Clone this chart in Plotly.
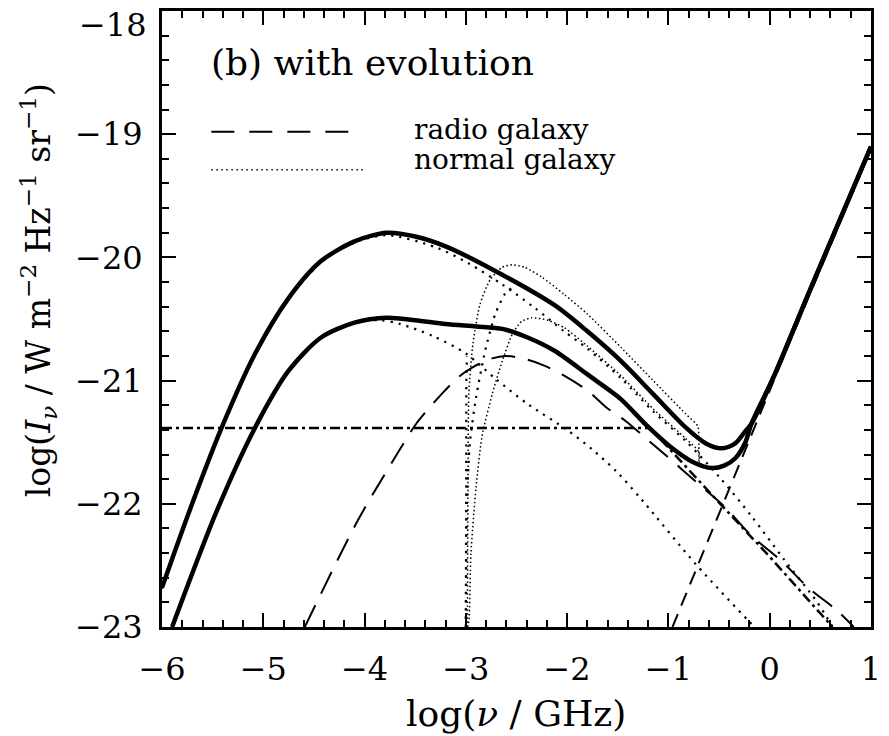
import plotly.graph_objects as go

# ---------------- data ----------------
# upper total (thick solid)
tot_hi_x = [-6.0, -5.73, -5.41, -5.08, -4.75, -4.43, -4.10, -3.78, -3.50, -3.20, -2.71, -2.12, -1.80,
            -1.47, -1.15, -0.83, -0.63, -0.47, -0.34, -0.24, -0.18, 0.05, 0.38, 1.0]
tot_hi_y = [-22.68, -22.06, -21.38, -20.78, -20.33, -20.03, -19.87, -19.80, -19.83, -19.91, -20.11, -20.39, -20.60,
            -20.84, -21.11, -21.38, -21.51, -21.55, -21.51, -21.41, -21.35, -20.95, -20.30, -19.10]
# lower total (thick solid)
tot_lo_x = [-5.90, -5.46, -5.08, -4.75, -4.43, -4.10, -3.78, -3.50, -3.20, -2.90, -2.64, -2.39, -2.12, -1.80,
            -1.47, -1.22, -0.99, -0.76, -0.57, -0.45, -0.34, -0.24, -0.18, 0.05, 0.38, 1.0]
tot_lo_y = [-23.0, -22.06, -21.38, -20.92, -20.65, -20.53, -20.49, -20.51, -20.54, -20.56, -20.58, -20.65, -20.76, -20.95,
            -21.15, -21.36, -21.53, -21.66, -21.71, -21.69, -21.63, -21.50, -21.35, -20.95, -20.30, -19.10]
# radio galaxy (long dashes)
radio_x = [-4.59, -4.07, -3.66, -3.49, -3.24, -3.07, -2.93, -2.74, -2.61, -2.39, -2.22, -2.03, -1.80, -1.61,
           -1.42, -1.22, -1.02, -0.73, -0.45, -0.18, 0.11, 0.38, 0.67, 0.83]
radio_y = [-23.0, -22.14, -21.57, -21.35, -21.11, -20.97, -20.89, -20.82, -20.80, -20.83, -20.88, -20.96, -21.08, -21.22,
           -21.33, -21.47, -21.61, -21.82, -22.02, -22.26, -22.46, -22.68, -22.87, -23.0]
# microwave background (short dashes)
cmb_x = [-0.96, -0.47, -0.15, 0.2, 0.6, 1.0]
cmb_y = [-23.0, -22.02, -21.38, -20.68, -19.90, -19.12]
# dash-dot component
dd_x = [-6.0, -1.18, -0.5, 0.0, 0.62]
dd_y = [-21.385, -21.385, -21.99, -22.43, -23.0]
# normal galaxy, upper (coarse dots)
ng_hi_x = [-6.0, -5.73, -5.41, -5.08, -4.75, -4.43, -4.10, -3.78, -3.29, -2.97, -2.64, -2.32, -2.03, -1.80,
           -1.47, -1.15, -0.83, -0.5, -0.18, 0.14, 0.47, 0.62]
ng_hi_y = [-22.69, -22.07, -21.39, -20.79, -20.34, -20.04, -19.88, -19.82, -19.92, -20.05, -20.22, -20.41, -20.60, -20.74,
           -20.98, -21.25, -21.49, -21.78, -22.10, -22.45, -22.80, -23.0]
# normal galaxy, lower (coarse dots)
ng_lo_x = [-5.90, -5.46, -5.08, -4.75, -4.43, -4.10, -3.85, -3.65, -3.32, -3.0, -2.70, -2.39, -2.0, -1.75, -1.51,
           -1.25, -0.73, -0.21, -0.15]
ng_lo_y = [-23.0, -22.06, -21.38, -20.92, -20.65, -20.53, -20.51, -20.54, -20.64, -20.78, -20.99, -21.19, -21.40, -21.56,
           -21.74, -21.98, -22.49, -22.95, -23.0]
# normal galaxy with low-frequency cut-off, upper (fine dots)
cut_hi_x = [-2.985, -2.98, -2.97, -2.93, -2.86, -2.76, -2.64, -2.54, -2.42, -2.25, -2.03, -1.80, -1.47, -1.15,
            -0.83, -0.71, -0.70, -0.70]
cut_hi_y = [-23.0, -22.0, -21.1, -20.70, -20.38, -20.18, -20.08, -20.06, -20.08, -20.16, -20.30, -20.46, -20.73, -21.00,
            -21.27, -21.37, -21.45, -21.65]
# normal galaxy with low-frequency cut-off, lower (fine dots)
cut_lo_x = [-2.985, -2.97, -2.95, -2.90, -2.84, -2.74, -2.64, -2.54, -2.45, -2.35, -2.19, -2.03, -1.80, -1.47,
            -1.15, -0.83, -0.70, -0.70]
cut_lo_y = [-23.0, -22.95, -22.41, -21.87, -21.45, -21.11, -20.84, -20.62, -20.52, -20.49, -20.51, -20.57, -20.72, -20.96,
            -21.23, -21.47, -21.58, -21.72]
# rising branches joining the normal-galaxy curves (coarse dots)
rise_hi_x = [-3.0, -2.99, -2.96, -2.90, -2.81, -2.71, -2.61, -2.55]
rise_hi_y = [-23.0, -22.0, -21.5, -21.14, -20.76, -20.46, -20.29, -20.25]
rise_lo_x = [-3.0, -3.0, -2.995, -2.99]
rise_lo_y = [-23.0, -21.6, -21.0, -20.80]

x_ticks = [-6, -5, -4, -3, -2, -1, 0, 1]
y_ticks = [-23, -22, -21, -20, -19, -18]

FONT = "DejaVu Serif"
fig = go.Figure()


def add(x, y, width, dash, shape="spline", smoothing=0.8):
    fig.add_trace(go.Scatter(x=x, y=y, mode="lines",
                             line=dict(color="black", width=width, dash=dash, shape=shape,
                                       smoothing=smoothing if shape == "spline" else None),
                             showlegend=False, hoverinfo="skip"))


FINE = "1.5px,2.5px"
COARSE = "2.2px,6px"
add(cut_hi_x, cut_hi_y, 1.5, FINE, smoothing=0.6)
add(cut_lo_x, cut_lo_y, 1.5, FINE, smoothing=0.6)
add(rise_hi_x, rise_hi_y, 2.2, COARSE, smoothing=0.6)
add(rise_lo_x, rise_lo_y, 2.2, COARSE, shape="linear")
add(ng_hi_x, ng_hi_y, 2.2, COARSE)
add(ng_lo_x, ng_lo_y, 2.2, COARSE)
add(dd_x, dd_y, 2.5, "10px,4px,3px,4px", shape="linear")
add(cmb_x, cmb_y, 2, "14px,9px", shape="linear")
add(radio_x, radio_y, 2, "24px,13px")
add(tot_lo_x, tot_lo_y, 4.5, "solid")
add(tot_hi_x, tot_hi_y, 4.5, "solid")

# plot area in pixels: x 162..881, y 10..627
L, R, T, B = 162, 881, 10, 627
W, H = 889, 736


def px(xp):
    return (xp - L) / (R - L)


def py(yp):
    return (B - yp) / (B - T)


def label(v):
    return f"{v}".replace("-", "−")


# legend samples
fig.add_shape(type="line", xref="paper", yref="paper", x0=px(212), x1=px(355), y0=py(131), y1=py(131),
              line=dict(color="black", width=2, dash="23px,15px"))
fig.add_shape(type="line", xref="paper", yref="paper", x0=px(212), x1=px(368), y0=py(169), y1=py(169),
              line=dict(color="black", width=1.5, dash="1.5px,3.5px"))
fig.add_annotation(xref="paper", yref="paper", x=px(416), y=py(129), text="radio galaxy", showarrow=False,
                   xanchor="left", yanchor="middle", font=dict(family=FONT, size=28, color="black"))
fig.add_annotation(xref="paper", yref="paper", x=px(416), y=py(159), text="normal galaxy", showarrow=False,
                   xanchor="left", yanchor="middle", font=dict(family=FONT, size=28, color="black"))
fig.add_annotation(xref="paper", yref="paper", x=px(210), y=py(62), text="(b) with evolution", showarrow=False,
                   xanchor="left", yanchor="middle", font=dict(family=FONT, size=36, color="black"))
# top y tick label sits a little below the frame corner in the reference
fig.add_annotation(xref="paper", yref="paper", x=px(149), y=py(24), text=label(y_ticks[-1]), showarrow=False,
                   xanchor="right", yanchor="middle", font=dict(family=FONT, size=32, color="black"))
# axis titles
fig.add_annotation(xref="paper", yref="paper", x=px(521), y=py(714), text="log(<i>ν</i> / GHz)", showarrow=False,
                   xanchor="center", yanchor="middle", font=dict(family=FONT, size=36, color="black"))
fig.add_annotation(xref="paper", yref="paper", x=px(37), y=py(290), textangle=-90,
                   text="log(<i>I</i><sub><i>ν</i></sub> / W m<sup>−2</sup> Hz<sup>−1</sup> sr<sup>−1</sup>)",
                   showarrow=False, xanchor="center", yanchor="middle",
                   font=dict(family=FONT, size=33, color="black"))

axis_common = dict(showgrid=False, zeroline=False, showline=True, linecolor="black", linewidth=3,
                   mirror="allticks", ticks="inside", ticklen=14, tickwidth=2, tickcolor="black",
                   tickfont=dict(family=FONT, size=32, color="black"))
fig.update_xaxes(range=[-6, 1], tickvals=x_ticks, ticktext=[label(v) for v in x_ticks],
                 minor=dict(ticks="inside", ticklen=7, tickwidth=2, tickcolor="black", dtick=0.2, tick0=0),
                 ticklabelstandoff=12, ticklabeloverflow="allow", **axis_common)
fig.update_yaxes(range=[-23, -18], tickvals=y_ticks,
                 ticktext=[label(v) if v != y_ticks[-1] else "" for v in y_ticks],
                 minor=dict(ticks="inside", ticklen=7, tickwidth=2, tickcolor="black", dtick=0.2, tick0=0),
                 ticklabelstandoff=10, **axis_common)
fig.update_layout(width=W, height=H, margin=dict(l=L, r=W - R, t=T, b=H - B),
                  paper_bgcolor="white", plot_bgcolor="white", showlegend=False)
fig.write_html("out.html")
